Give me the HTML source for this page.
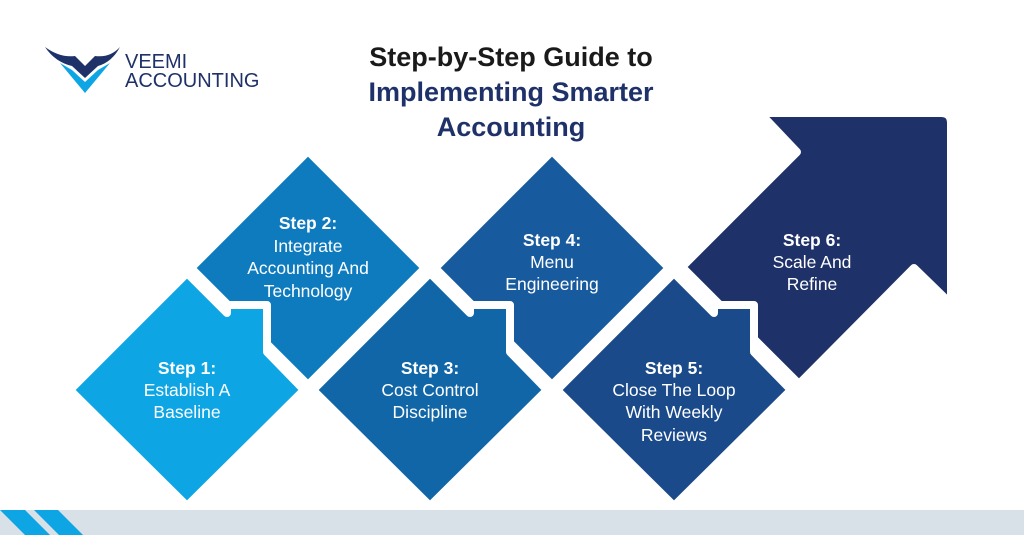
<!DOCTYPE html>
<html><head><meta charset="utf-8"><style>
html,body{margin:0;padding:0;background:#fff;}
body{width:1024px;height:535px;overflow:hidden;position:relative;font-family:"Liberation Sans",Arial,sans-serif;}
svg{position:absolute;left:0;top:0;}
</style></head><body>
<svg width="1024" height="535" viewBox="0 0 1024 535" xmlns="http://www.w3.org/2000/svg">
<path d="M45,47 Q60,58 75,56 L85,66 L95,56 Q110,58 120,47 Q112,62 98,66 L85,78 L72,66 Q55,62 45,47Z" fill="#1e3169"/>
<path d="M60,63 L72,70 L85,82 L98,70 L110,63 L85,93 Z" fill="#0ea5e4"/>
<text x="125" y="68" font-size="20" fill="#1e3169">VEEMI</text>
<text x="125" y="87" font-size="20" fill="#1e3169">ACCOUNTING</text>
<g font-weight="bold" font-size="27" text-anchor="middle">
<text x="511" y="66" fill="#1a1a1a">Step-by-Step Guide to</text>
<text x="511" y="101" fill="#1e3169">Implementing Smarter</text>
<text x="511" y="136" fill="#1e3169">Accounting</text>
</g>
<g stroke="#fff" stroke-width="8" stroke-linejoin="round">
<polygon points="308,151 425,268 308,385 191,268" fill="#0f7bbf"/>
<polygon points="552,151 669,268 552,385 435,268" fill="#175a9e"/>
<path d="M682,267 L797,152 L760,113 L941,113 Q951,113 951,123 L951,304 L914,268 L799,384 Z" fill="#1e3169"/>
<polygon points="187,273 227,313 227,305 267,305 267,352 304,390 187,506 70,390" fill="#0ea5e4"/>
<polygon points="430,273 470,313 470,305 510,305 510,352 547,390 430,506 313,390" fill="#1166a8"/>
<polygon points="674,273 714,313 714,305 754,305 754,352 791,390 674,506 557,390" fill="#1a4a8a"/>
</g>
<rect x="0" y="510" width="1024" height="25" fill="#d9e1e8"/>
<polygon points="0,510 25,510 50,535 25,535" fill="#0ea5e4"/>
<polygon points="34,510 58,510 83,535 59,535" fill="#0ea5e4"/>
<g fill="#fff" font-size="17.5" text-anchor="middle">
<text x="187" y="374" font-weight="bold">Step 1:</text>
<text x="187" y="396">Establish A</text>
<text x="187" y="418">Baseline</text>
<text x="308" y="229" font-weight="bold">Step 2:</text>
<text x="308" y="252">Integrate</text>
<text x="308" y="274">Accounting And</text>
<text x="308" y="297">Technology</text>
<text x="430" y="374" font-weight="bold">Step 3:</text>
<text x="430" y="396">Cost Control</text>
<text x="430" y="418">Discipline</text>
<text x="552" y="246" font-weight="bold">Step 4:</text>
<text x="552" y="268">Menu</text>
<text x="552" y="290">Engineering</text>
<text x="674" y="374" font-weight="bold">Step 5:</text>
<text x="674" y="396">Close The Loop</text>
<text x="674" y="418">With Weekly</text>
<text x="674" y="441">Reviews</text>
<text x="812" y="246" font-weight="bold">Step 6:</text>
<text x="812" y="268">Scale And</text>
<text x="812" y="290">Refine</text>
</g>
</svg>
</body></html>
